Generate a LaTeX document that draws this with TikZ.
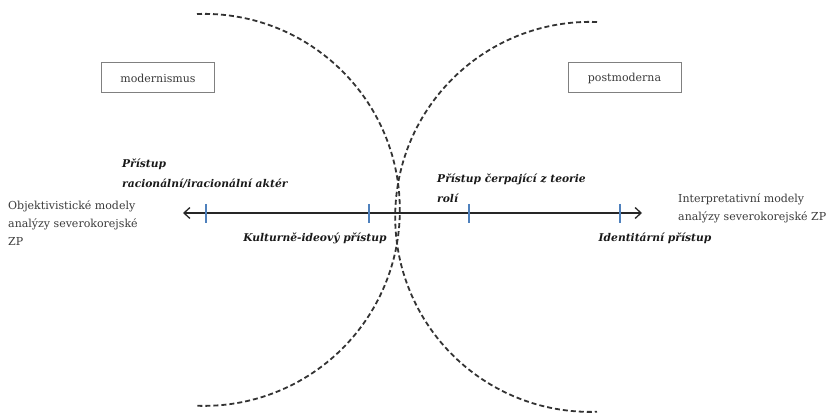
\documentclass[tikz,border=0pt]{standalone}
\usepackage{fontspec}
\setmainfont{DejaVu Serif}
\usetikzlibrary{arrows.meta}
\definecolor{txtgrey}{HTML}{3A3A3A}
\definecolor{dashgrey}{HTML}{333333}
\definecolor{tickblue}{HTML}{4F81BD}
\definecolor{boxgrey}{HTML}{808080}
\tikzset{
  plain/.style={inner sep=0pt, anchor=north west, align=left, text=txtgrey, font=\fontsize{11}{18}\selectfont},
  approach/.style={inner sep=0pt, align=left, text=black!90, font=\fontsize{10.7}{20}\selectfont\bfseries\itshape},
  era/.style={draw=boxgrey, line width=1pt, minimum width=113pt, minimum height=30pt, inner sep=0pt, text=txtgrey, font=\fontsize{11}{13}\selectfont},
  border/.style={dashgrey, line width=1.8pt, dash pattern=on 5pt off 3pt},
  tickmark/.style={tickblue, line width=1.5pt},
  axis/.style={black!85, line width=1.3pt, {Straight Barb[length=6pt,width=11pt]}-{Straight Barb[length=6pt,width=11pt]}}
}
\begin{document}
\begin{tikzpicture}[x=1pt,y=1pt]
\useasboundingbox (0,0) rectangle (833,-414);
% dashed boundaries
\draw[border] (197,-14) arc[start angle=92, end angle=-92, radius=196];
\draw[border] (597,-22) arc[start angle=88, end angle=272, radius=195];
% boxes
\node[era] (mod) at (158,-78) {modernismus};
\node[era] (post) at (624.5,-78) {postmoderna};
% axis
\coordinate (L) at (183,-213);
\coordinate (R) at (642,-213);
\draw[axis] (L) -- (R);
\foreach \n/\x in {t1/206,t2/369,t3/469,t4/620}{
  \coordinate (\n a) at (\x,-204);
  \coordinate (\n b) at (\x,-223);
  \draw[tickmark] (\n a) -- (\n b);
}
% side labels
\node[plain] (obj) at (8,-201) {Objektivistické modely\\analýzy severokorejské\\ZP};
\node[plain] (int) at (678,-193.5) {Interpretativní modely\\analýzy severokorejské ZP};
% approach labels
\node[approach, anchor=north west] (rac) at (122,-159) {Přístup\\racionální/iracionální aktér};
\node[approach, anchor=north west] (rol) at (437,-174) {Přístup čerpající z teorie\\rolí};
\node[approach, anchor=north] (kul) at (315,-233) {Kulturně-ideový přístup};
\node[approach, anchor=north] (ide) at (655,-233) {Identitární přístup};
\end{tikzpicture}
\end{document}
